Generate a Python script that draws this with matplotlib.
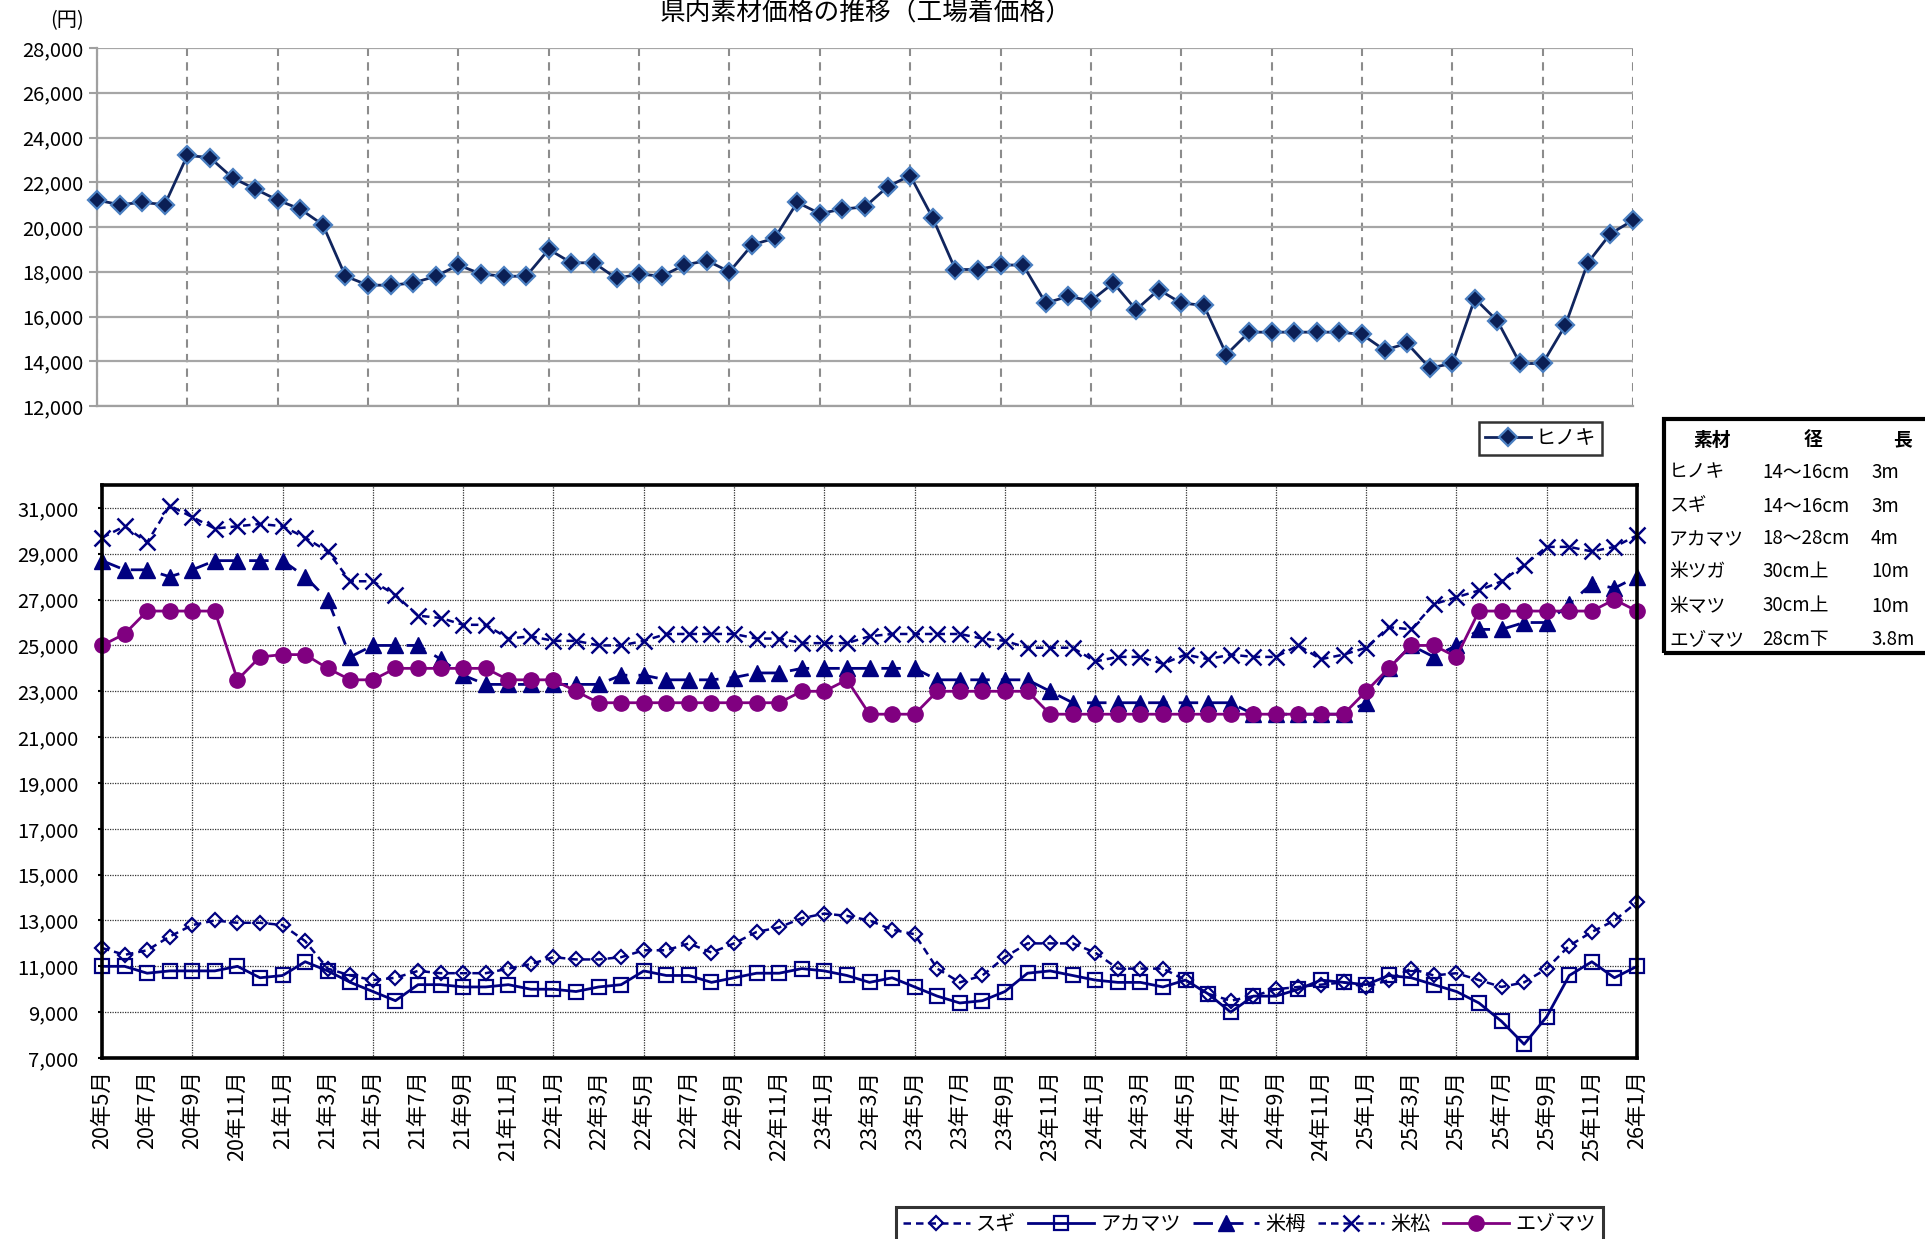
import matplotlib
matplotlib.use("Agg")
import matplotlib.pyplot as plt
from matplotlib.patches import Rectangle

plt.rcParams["font.family"] = ["Noto Sans CJK JP", "DejaVu Sans"]

W, H = 1925, 1239
DPI = 100

# monthly prices, 20年5月 .. 26年1月 (69 months)
hinoki = [21200, 21000, 21100, 21000, 23200, 23100, 22200, 21700, 21200, 20800,
          20100, 17800, 17400, 17400, 17500, 17800, 18300, 17900, 17800, 17800,
          19000, 18400, 18400, 17700, 17900, 17800, 18300, 18500, 18000, 19200,
          19500, 21100, 20600, 20800, 20900, 21800, 22300, 20400, 18100, 18100,
          18300, 18300, 16600, 16900, 16700, 17500, 16300, 17200, 16600, 16500,
          14300, 15300, 15300, 15300, 15300, 15300, 15200, 14500, 14800, 13700,
          13900, 16800, 15800, 13900, 13900, 15600, 18400, 19700, 20300]

sugi = [11800, 11500, 11700, 12300, 12800, 13000, 12900, 12900, 12800, 12100,
        10900, 10600, 10400, 10500, 10800, 10700, 10700, 10700, 10900, 11100,
        11400, 11300, 11300, 11400, 11700, 11700, 12000, 11600, 12000, 12500,
        12700, 13100, 13300, 13200, 13000, 12600, 12400, 10900, 10300, 10600,
        11400, 12000, 12000, 12000, 11600, 10900, 10900, 10900, 10400, 9800,
        9500, 9700, 10000, 10100, 10200, 10300, 10100, 10400, 10900, 10600,
        10700, 10400, 10100, 10300, 10900, 11900, 12500, 13000, 13800]

akamatsu = [11000, 11000, 10700, 10800, 10800, 10800, 11000, 10500, 10600, 11200,
            10800, 10300, 9900, 9500, 10200, 10200, 10100, 10100, 10200, 10000,
            10000, 9900, 10100, 10200, 10800, 10600, 10600, 10300, 10500, 10700,
            10700, 10900, 10800, 10600, 10300, 10500, 10100, 9700, 9400, 9500,
            9900, 10700, 10800, 10600, 10400, 10300, 10300, 10100, 10400, 9800,
            9000, 9700, 9700, 10000, 10400, 10300, 10200, 10600, 10500, 10200,
            9900, 9400, 8600, 7600, 8800, 10600, 11200, 10500, 11000]

beitsuga = [28700, 28300, 28300, 28000, 28300, 28700, 28700, 28700, 28700, 28000,
            27000, 24500, 25000, 25000, 25000, 24400, 23700, 23300, 23300, 23300,
            23300, 23300, 23300, 23700, 23700, 23500, 23500, 23500, 23600, 23800,
            23800, 24000, 24000, 24000, 24000, 24000, 24000, 23500, 23500, 23500,
            23500, 23500, 23000, 22500, 22500, 22500, 22500, 22500, 22500, 22500,
            22500, 22000, 22000, 22000, 22000, 22000, 22500, 24000, 25000, 24500,
            25000, 25700, 25700, 26000, 26000, 26800, 27700, 27500, 28000]

beimatsu = [29700, 30200, 29500, 31100, 30600, 30100, 30200, 30300, 30200, 29700,
            29100, 27800, 27800, 27200, 26300, 26200, 25900, 25900, 25300, 25400,
            25200, 25200, 25000, 25000, 25200, 25500, 25500, 25500, 25500, 25300,
            25300, 25100, 25100, 25100, 25400, 25500, 25500, 25500, 25500, 25300,
            25200, 24900, 24900, 24900, 24300, 24500, 24500, 24200, 24600, 24400,
            24600, 24500, 24500, 25000, 24400, 24600, 24900, 25800, 25700, 26800,
            27100, 27400, 27800, 28500, 29300, 29300, 29100, 29300, 29800]

ezomatsu = [25000, 25500, 26500, 26500, 26500, 26500, 23500, 24500, 24600, 24600,
            24000, 23500, 23500, 24000, 24000, 24000, 24000, 24000, 23500, 23500,
            23500, 23000, 22500, 22500, 22500, 22500, 22500, 22500, 22500, 22500,
            22500, 23000, 23000, 23500, 22000, 22000, 22000, 23000, 23000, 23000,
            23000, 23000, 22000, 22000, 22000, 22000, 22000, 22000, 22000, 22000,
            22000, 22000, 22000, 22000, 22000, 22000, 23000, 24000, 25000, 25000,
            24500, 26500, 26500, 26500, 26500, 26500, 26500, 27000, 26500]

month_labels = ["20年5月", "20年7月", "20年9月", "20年11月", "21年1月", "21年3月",
                "21年5月", "21年7月", "21年9月", "21年11月", "22年1月", "22年3月",
                "22年5月", "22年7月", "22年9月", "22年11月", "23年1月", "23年3月",
                "23年5月", "23年7月", "23年9月", "23年11月", "24年1月", "24年3月",
                "24年5月", "24年7月", "24年9月", "24年11月", "25年1月", "25年3月",
                "25年5月", "25年7月", "25年9月", "25年11月", "26年1月"]

table_header = ["素材", "径", "長"]
table_names = ["ヒノキ", "スギ", "アカマツ", "米ツガ", "米マツ", "エゾマツ"]
table_diam = ["14～16cm", "14～16cm", "18～28cm", "30cm上", "30cm上", "28cm下"]
table_len = ["3m", "3m", "4m", "10m", "10m", "3.8m"]

NAVY = "#000080"
PURPLE = "#800080"
FS = 14.5

x = list(range(len(hinoki)))


def fig_rect(left, top, right, bottom):
    return [left / W, 1 - bottom / H, (right - left) / W, (bottom - top) / H]


fig = plt.figure(figsize=(W / DPI, H / DPI), dpi=DPI)

# ---- top panel: ヒノキ ----
ax1 = fig.add_axes(fig_rect(97, 48, 1633, 406))
h_hinoki, = ax1.plot(x, hinoki, color="#10255e", lw=2, marker="D", ms=9,
                     mfc="#0b1f55", mec="#4a7fc1", mew=1.6, clip_on=False,
                     zorder=3)
ax1.set_xlim(0, 68)
ax1.set_ylim(12000, 28000)
yt1 = list(range(12000, 28001, 2000))
ax1.set_yticks(yt1, [f"{v:,}" for v in yt1])
ax1.set_xticks(list(range(0, 69, 4)))
ax1.tick_params(axis="x", length=0, labelbottom=False)
ax1.tick_params(axis="y", length=6, width=1.5, color="#a0a0a0",
                labelsize=FS, pad=4)
ax1.grid(axis="y", color="#a6a6a6", lw=1.6, ls="-")
ax1.grid(axis="x", color="#8c8c8c", lw=1.5, ls=(0, (4, 3)))
for s in ("top", "right"):
    ax1.spines[s].set_visible(False)
for s in ("left", "bottom"):
    ax1.spines[s].set_color("#a0a0a0")
    ax1.spines[s].set_linewidth(1.6)

# ---- bottom panel ----
ax2 = fig.add_axes(fig_rect(102, 485, 1637, 1058))
h_sugi, = ax2.plot(x, sugi, color=NAVY, lw=1.8, ls=(0, (3, 2)), marker="D",
                   ms=7.5, mfc="none", mec=NAVY, mew=1.6, clip_on=False)
h_aka, = ax2.plot(x, akamatsu, color=NAVY, lw=2, ls="-", marker="s", ms=10.5,
                  mfc="none", mec=NAVY, mew=1.6, clip_on=False)
h_tsuga, = ax2.plot(x, beitsuga, color=NAVY, lw=2, ls=(0, (7, 4)), marker="^",
                    ms=11, mfc=NAVY, mec=NAVY, clip_on=False)
h_bei, = ax2.plot(x, beimatsu, color=NAVY, lw=1.8, ls=(0, (3, 2)), marker="x",
                  ms=11, mec=NAVY, mew=1.8, clip_on=False)
h_ezo, = ax2.plot(x, ezomatsu, color=PURPLE, lw=2, ls="-", marker="o", ms=11,
                  mfc=PURPLE, mec=PURPLE, clip_on=False)

ax2.set_xlim(0, 68)
ax2.set_ylim(7000, 32000)
yt2 = list(range(7000, 31001, 2000))
ax2.set_yticks(yt2, [f"{v:,}" for v in yt2])
tick_pos = list(range(0, 69, 2))
ax2.set_xticks(tick_pos[0::2], month_labels[0::2])
ax2.set_xticks(tick_pos[1::2], month_labels[1::2], minor=True)
ax2.tick_params(axis="x", which="both", length=0, labelsize=15.5,
                labelrotation=90, pad=9)
ax2.tick_params(axis="y", length=3, width=1.5, labelsize=FS, pad=14)
ax2.grid(which="major", color="#333333", lw=0.9, ls=(0, (1, 1)))
for s in ax2.spines.values():
    s.set_color("black")
    s.set_linewidth(2.6)
    s.set_zorder(5)

# ---- legends ----
leg1 = fig.legend([h_hinoki], ["ヒノキ"], loc="upper left",
                  bbox_to_anchor=(1479 / W, 1 - 422 / H), frameon=True,
                  fancybox=False, edgecolor="black", fontsize=FS,
                  handlelength=2.3, borderpad=0.3, handletextpad=0.2,
                  borderaxespad=0)
leg1.get_frame().set_linewidth(1.8)

leg2 = fig.legend([h_sugi, h_aka, h_tsuga, h_bei, h_ezo],
                  ["スギ", "アカマツ", "米栂", "米松", "エゾマツ"],
                  loc="upper left", bbox_to_anchor=(896 / W, 1 - 1207 / H),
                  ncol=5, frameon=True, fancybox=False, edgecolor="black",
                  fontsize=FS, handlelength=3.3, handletextpad=0.3,
                  columnspacing=0.6, borderpad=0.35, borderaxespad=0)
leg2.get_frame().set_linewidth(2.2)

# ---- spec table ----
fig.add_artist(Rectangle((1664 / W, 1 - 653 / H), 400 / W, (653 - 419) / H,
                         transform=fig.transFigure, fill=False, lw=3,
                         edgecolor="black"))
TFS = 13.5
fig.text(1712 / W, 1 - 440 / H, table_header[0], ha="center", va="center",
         fontsize=TFS, fontweight="bold")
fig.text(1813 / W, 1 - 440 / H, table_header[1], ha="center", va="center",
         fontsize=TFS, fontweight="bold")
fig.text(1903 / W, 1 - 440 / H, table_header[2], ha="center", va="center",
         fontsize=TFS, fontweight="bold")
row_y = [472, 506, 539, 572, 606, 640]
for yy, nm, dm, ln in zip(row_y, table_names, table_diam, table_len):
    fig.text(1669 / W, 1 - yy / H, nm, ha="left", va="center", fontsize=TFS)
    fig.text(1762 / W, 1 - yy / H, dm, ha="left", va="center", fontsize=TFS)
    fig.text(1871 / W, 1 - yy / H, ln, ha="left", va="center", fontsize=TFS)

# ---- titles ----
fig.text(866 / W, 1 - 1 / H, "県内素材価格の推移（工場着価格）", ha="center",
         va="top", fontsize=18.5)
fig.text(67 / W, 1 - 21 / H, "(円)", ha="center", va="center", fontsize=FS)

fig.savefig("out.png", dpi=DPI)
